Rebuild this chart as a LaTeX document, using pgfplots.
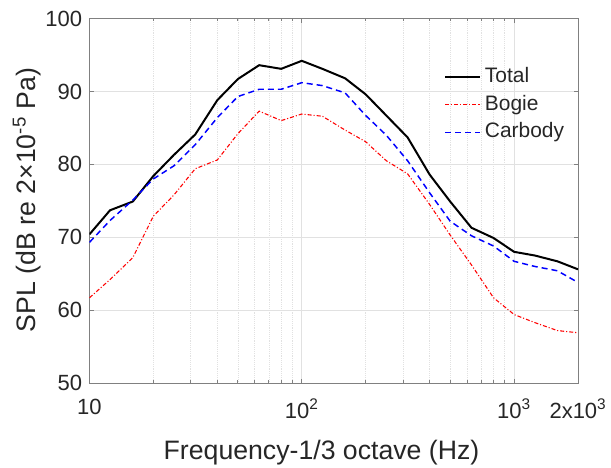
\documentclass[border=0pt]{standalone}
\usepackage{pgfplots}
\pgfplotsset{compat=1.18}
\usepackage{fontspec}
\setmainfont{Liberation Sans}
\definecolor{axgray}{RGB}{128,128,128}
\definecolor{txt}{RGB}{38,38,38}
\definecolor{gridc}{RGB}{225,225,225}
\begin{document}
\begin{tikzpicture}
\begin{axis}[
  scale only axis,
  width=366.4pt, height=273.4pt,
  xmode=log, log basis x=10,
  xmin=10, xmax=2000, ymin=50, ymax=100,
  xtick={10,100,1000,2000},
  xticklabels={10,10\textsuperscript{2},10\textsuperscript{3},2x10\textsuperscript{3}},
  minor xtick={20,30,40,50,60,70,80,90,200,300,400,500,600,700,800,900},
  ytick={50,60,70,80,90,100},
  /pgf/number format/assume math mode=true,
  tick label style={font=\fontsize{16.5}{18}\selectfont, text=txt},
  yticklabel style={xshift=-2pt},
  xticklabel style={yshift=-8.5pt},
  axis line style={axgray, line width=0.7pt},
  tick style={axgray, line width=0.6pt},
  major tick length=3.3pt, minor tick length=2.2pt,
  tick align=inside,
  ymajorgrids=true, xmajorgrids=true, xminorgrids=true,
  major grid style={gridc, line width=0.6pt},
  minor grid style={gridc, densely dotted, line width=0.5pt},
  xlabel={Frequency-1/3 octave (Hz)},
  ylabel={SPL (dB re 2×10\textsuperscript{-5} Pa)},
  label style={font=\fontsize{20}{24}\selectfont, text=txt},
  xlabel style={at={(axis description cs:0.475,-0.192)}, anchor=center},
  ylabel style={at={(axis description cs:-0.128,0.502)}, anchor=center, rotate=0},
  legend style={draw=none, fill=none, at={(axis description cs:0.7257,0.868)}, anchor=north west,
    font=\fontsize{15.7}{18}\selectfont, text=txt, inner sep=0pt, row sep=5.9pt,
    nodes={inner sep=0pt, text height=11.5pt, text depth=3.5pt}},
  legend cell align=left,
  legend image code/.code={\draw[#1] (0pt,0pt) -- (26pt,0pt);},
  /tikz/every odd column/.append style={column sep=3pt},
]
\addplot[black, line width=1.5pt] coordinates {
(10,70.4) (12.5,73.7) (16,74.9) (20,78.4) (25,81.3) (31.5,84.1) (40,88.8) (50,91.7)
(63,93.6) (80,93.1) (100,94.2) (125,93.1) (160,91.8) (200,89.6) (250,86.7) (315,83.7)
(400,78.6) (500,74.9) (630,71.3) (800,69.9) (1000,68.0) (1250,67.5) (1600,66.7) (2000,65.6)};
\addlegendentry{Total}
\addplot[red, line width=0.8pt, dash pattern=on 3pt off 1.5pt on 0.8pt off 1.5pt] coordinates {
(10,61.7) (12.5,64.2) (16,67.2) (20,72.9) (25,75.8) (31.5,79.4) (40,80.6) (50,84.2)
(63,87.3) (80,86.0) (100,86.9) (125,86.6) (160,84.7) (200,83.1) (250,80.5) (315,78.7)
(400,74.5) (500,70.3) (630,66.2) (800,61.7) (1000,59.4) (1250,58.3) (1600,57.2) (2000,56.9)};
\addlegendentry{Bogie}
\addplot[blue, line width=1.1pt, dash pattern=on 4.5pt off 3pt] coordinates {
(10,69.3) (12.5,72.3) (16,75.1) (20,78.0) (25,79.8) (31.5,82.7) (40,86.4) (50,89.3)
(63,90.3) (80,90.3) (100,91.2) (125,90.8) (160,89.8) (200,86.7) (250,84.0) (315,80.5)
(400,76.1) (500,72.2) (630,70.2) (800,68.8) (1000,66.7) (1250,66.0) (1600,65.4) (2000,63.8)};
\addlegendentry{Carbody}
\end{axis}
\pgfresetboundingbox
\useasboundingbox (-67.1pt,-63pt) rectangle (391.15pt,287.3pt);
\end{tikzpicture}
\end{document}
